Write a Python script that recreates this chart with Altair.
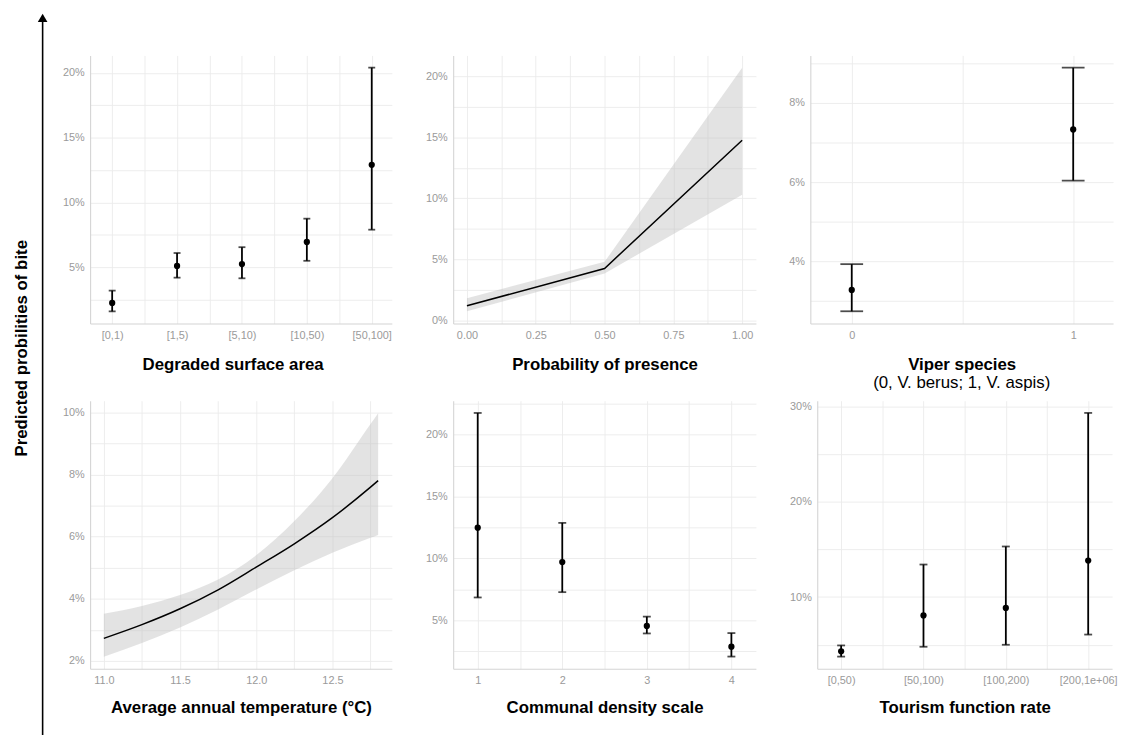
import altair as alt
import pandas as pd

FONT = "Liberation Sans"

# ---------------- data (percent values) ----------------
deg_cats = ["[0,1)", "[1,5)", "[5,10)", "[10,50)", "[50,100]"]
deg_est = [2.25, 5.1, 5.25, 6.95, 12.9]
deg_lo = [1.6, 4.2, 4.15, 5.5, 7.9]
deg_hi = [3.2, 6.1, 6.55, 8.75, 20.4]

pres_x = [0.0, 0.5, 1.0]
pres_est = [1.2, 4.26, 14.76]
pres_lo = [0.75, 3.85, 10.3]
pres_hi = [1.83, 4.8, 20.7]

vip_cats = ["0", "1"]
vip_est = [3.28, 7.33]
vip_lo = [2.74, 6.04]
vip_hi = [3.93, 8.89]

temp_x = [11.0, 11.25, 11.5, 11.75, 12.0, 12.25, 12.5, 12.75, 12.8]
temp_est = [2.73, 3.17, 3.68, 4.29, 5.02, 5.77, 6.61, 7.59, 7.8]
temp_lo = [2.14, 2.58, 3.08, 3.66, 4.3, 4.92, 5.48, 5.96, 6.05]
temp_hi = [3.52, 3.77, 4.12, 4.62, 5.4, 6.5, 7.88, 9.62, 9.97]

comm_x = [1, 2, 3, 4]
comm_est = [12.48, 9.7, 4.54, 2.86]
comm_lo = [6.84, 7.27, 3.93, 2.06]
comm_hi = [21.76, 12.87, 5.29, 3.96]

tour_cats = ["[0,50)", "[50,100)", "[100,200)", "[200,1e+06]"]
tour_est = [4.31, 8.07, 8.86, 13.83]
tour_lo = [3.76, 4.79, 5.0, 6.07]
tour_hi = [4.93, 13.41, 15.3, 29.3]

# ---------------- tick values (major = labelled, others = minor grid) --------
deg_xticks = [1, 1.5, 2, 2.5, 3, 3.5, 4, 4.5, 5]
deg_yticks = [0.025, 0.05, 0.075, 0.10, 0.125, 0.15, 0.175, 0.20]
deg_ymajor = [0.05, 0.10, 0.15, 0.20]

pres_xticks = [0, 0.125, 0.25, 0.375, 0.5, 0.625, 0.75, 0.875, 1.0]
pres_xmajor = [0, 0.25, 0.5, 0.75, 1.0]
pres_yticks = [0, 0.025, 0.05, 0.075, 0.10, 0.125, 0.15, 0.175, 0.20]
pres_ymajor = [0, 0.05, 0.10, 0.15, 0.20]

vip_xticks = [0, 0.5, 1]
vip_yticks = [0.03, 0.04, 0.05, 0.06, 0.07, 0.08, 0.09]
vip_ymajor = [0.04, 0.06, 0.08]

temp_xticks = [11.0, 11.25, 11.5, 11.75, 12.0, 12.25, 12.5, 12.75]
temp_xmajor = [11.0, 11.5, 12.0, 12.5]
temp_yticks = [0.02, 0.03, 0.04, 0.05, 0.06, 0.07, 0.08, 0.09, 0.10]
temp_ymajor = [0.02, 0.04, 0.06, 0.08, 0.10]

comm_xticks = [1, 1.5, 2, 2.5, 3, 3.5, 4]
comm_yticks = [0.025, 0.05, 0.075, 0.10, 0.125, 0.15, 0.175, 0.20, 0.225]
comm_ymajor = [0.05, 0.10, 0.15, 0.20]

tour_xticks = [1, 1.5, 2, 2.5, 3, 3.5, 4]
tour_yticks = [0.05, 0.10, 0.15, 0.20, 0.25, 0.30]
tour_ymajor = [0.10, 0.20, 0.30]

y_title = "Predicted probilities of bite"


def pct(v):
    return [x / 100 for x in v]


def major_expr(majors, fmt):
    keys = ",".join(str(int(round(m * 1000))) for m in majors)
    return f"indexof([{keys}], round(datum.value*1000)) >= 0 ? format(datum.value, '{fmt}') : ''"


def cat_expr(cats, start):
    arr = "[" + ",".join(f"'{c}'" for c in cats) + "]"
    return f"datum.value % 1 === 0 ? {arr}[datum.value - {start}] : ''"


def xenc(field, dom, ticks, expr, title, tpad, tx):
    kw = dict(values=ticks, labelExpr=expr, title=title, labelOverlap=False,
              labelFlush=False, titlePadding=tpad)
    if tx is not None:
        kw["titleX"] = tx
    return alt.X(f"{field}:Q", scale=alt.Scale(domain=dom, nice=False, zero=False),
                 axis=alt.Axis(**kw))


def yenc(field, dom, ticks, majors):
    return alt.Y(f"{field}:Q", scale=alt.Scale(domain=dom, nice=False, zero=False),
                 axis=alt.Axis(values=ticks, labelExpr=major_expr(majors, ".0%"), title=None,
                               labelOverlap=False, labelFlush=False))


def err_panel(idx, est, lo, hi, xdom, xticks, xexpr, title, ydom, yticks, ymajor, w, h, cap,
              tpad=16, tx=None):
    df = pd.DataFrame({"i": idx, "est": pct(est), "lo": pct(lo), "hi": pct(hi)})
    base = alt.Chart(df)
    x = xenc("i", xdom, xticks, xexpr, title, tpad, tx)
    rule = base.mark_rule(color="black", strokeWidth=1.8).encode(
        x=x, y=yenc("lo", ydom, yticks, ymajor), y2="hi:Q")
    cap_lo = base.mark_tick(color="black", thickness=1.8, size=cap, orient="horizontal").encode(
        x=x, y=yenc("lo", ydom, yticks, ymajor))
    cap_hi = base.mark_tick(color="black", thickness=1.8, size=cap, orient="horizontal").encode(
        x=x, y=yenc("hi", ydom, yticks, ymajor))
    pts = base.mark_circle(color="black", size=40, opacity=1).encode(
        x=x, y=yenc("est", ydom, yticks, ymajor))
    return alt.layer(rule, cap_lo, cap_hi, pts).properties(width=w, height=h)


def line_panel(xs, est, lo, hi, xdom, xticks, xexpr, title, ydom, yticks, ymajor, w, h, interp,
               tpad=16):
    df = pd.DataFrame({"x": xs, "est": pct(est), "lo": pct(lo), "hi": pct(hi)})
    base = alt.Chart(df)
    x = xenc("x", xdom, xticks, xexpr, title, tpad, None)
    band = base.mark_area(color="#bdbdbd", opacity=0.42, interpolate=interp).encode(
        x=x, y=yenc("lo", ydom, yticks, ymajor), y2="hi:Q")
    line = base.mark_line(color="black", strokeWidth=1.5, interpolate=interp).encode(
        x=x, y=yenc("est", ydom, yticks, ymajor))
    return alt.layer(band, line).properties(width=w, height=h)


p1 = err_panel(list(range(1, 6)), deg_est, deg_lo, deg_hi, [0.66, 5.31], deg_xticks,
               cat_expr(deg_cats, 1), "Degraded surface area",
               [0.0066, 0.2134], deg_yticks, deg_ymajor, 305, 271, 7, tx=144)

p2 = line_panel(pres_x, pres_est, pres_lo, pres_hi, [-0.05, 1.05], pres_xticks,
                major_expr(pres_xmajor, ".2f"), "Probability of presence",
                [-0.0025, 0.217], pres_yticks, pres_ymajor, 306, 271, "linear")

p3 = err_panel([0, 1], vip_est, vip_lo, vip_hi, [-0.187, 1.18], vip_xticks,
               cat_expr(vip_cats, 0), "Viper species",
               [0.0243, 0.092], vip_yticks, vip_ymajor, 306, 271, 23).properties(
    title=alt.TitleParams(text="(0, V. berus; 1, V. aspis)", orient="bottom", anchor="middle",
                          fontSize=17, fontWeight="normal", font=FONT, color="black", offset=3))

p4 = line_panel(temp_x, temp_est, temp_lo, temp_hi, [10.91, 12.89], temp_xticks,
                major_expr(temp_xmajor, ".1f"), "Average annual temperature (°C)",
                [0.0175, 0.1037], temp_yticks, temp_ymajor, 305, 271, "monotone", tpad=14)

p5 = err_panel(comm_x, comm_est, comm_lo, comm_hi, [0.71, 4.29], comm_xticks,
               cat_expr([str(c) for c in comm_x], 1), "Communal density scale",
               [0.0107, 0.2275], comm_yticks, comm_ymajor, 306, 271, 8, tpad=14)

p6 = err_panel(list(range(1, 5)), tour_est, tour_lo, tour_hi, [0.71, 4.29], tour_xticks,
               cat_expr(tour_cats, 1), "Tourism function rate",
               [0.0248, 0.3058], tour_yticks, tour_ymajor, 298, 271, 8, tpad=14)

spacer = alt.Chart(pd.DataFrame({"a": [0]})).mark_rule(opacity=0).encode(
    x=alt.value(5), y=alt.value(10), y2=alt.value(20)).properties(width=10, height=37)

row1 = alt.hconcat(p1, p2, p3, spacing=33)
row2 = alt.hconcat(p4, p5, p6, spacing=33)
grid = alt.vconcat(spacer, row1, row2, spacing=7)

ldf = pd.DataFrame({"t": [y_title]})
lbase = alt.Chart(ldf)
arrow_shaft = lbase.mark_rule(color="black", strokeWidth=1.6).encode(
    x=alt.value(35), y=alt.value(8), y2=alt.value(731))
arrow_head = lbase.mark_point(shape="triangle-up", filled=True, color="black", size=95, opacity=1).encode(
    x=alt.value(35), y=alt.value(6))
ytxt = lbase.mark_text(angle=270, fontSize=17, fontWeight="bold", font=FONT, color="black").encode(
    x=alt.value(14), y=alt.value(340), text="t:N")
left = alt.layer(arrow_shaft, arrow_head, ytxt).properties(width=40, height=731)

chart = alt.hconcat(left, grid, spacing=14).properties(padding=0).configure(
    font=FONT
).configure_view(stroke=None).configure_axis(
    gridColor="#ebebeb", gridWidth=0.9, domainColor="#d4d4d4", domainWidth=1.1,
    ticks=False, labelColor="#9a9a9a", labelFontSize=11, labelFont=FONT,
    titleFont=FONT, titleFontSize=17, titleFontWeight="bold", titleColor="black",
    labelPadding=6
)

chart.save("out.html", embed_options={"renderer": "svg", "actions": False})
